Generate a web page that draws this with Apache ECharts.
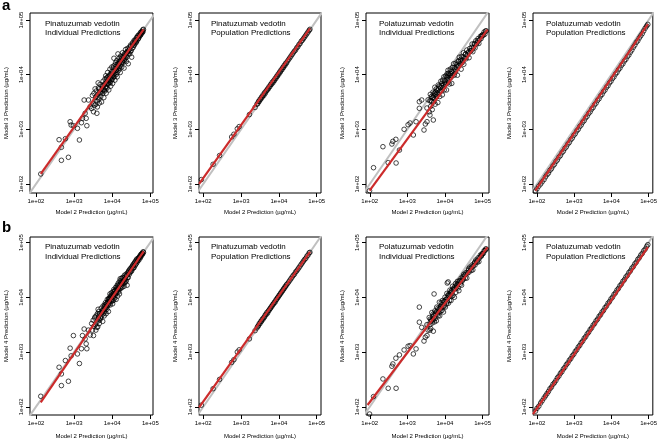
<!DOCTYPE html>
<html><head><meta charset="utf-8">
<script src="https://cdn.jsdelivr.net/npm/echarts@6/dist/echarts.min.js"></script>
<style>html,body{margin:0;padding:0;background:#fff}#c{width:660px;height:444px}</style>
</head><body><div id="c"></div>
<script>
// ---------- data (log10 of concentration, µg/mL) ----------
const tickValues = [100, 1000, 10000, 100000];
const xAxisTitle = 'Model 2 Prediction (µg/mL)';
const yAxisTitles = ['Model 3 Prediction (µg/mL)', 'Model 4 Prediction (µg/mL)'];
const panelTitles = [
  'Pinatuzumab vedotin\nIndividual Predictions',
  'Pinatuzumab vedotin\nPopulation Predictions',
  'Polatuzumab vedotin\nIndividual Predictions',
  'Polatuzumab vedotin\nPopulation Predictions'
];
const rowLetters = ['a', 'b'];

// [Model 2, Model 3, Model 4]  (log10 values)
const pinaIndiv = [
[2.124,2.183,2.192],[2.605,2.810,2.722],[2.666,2.671,2.600],[2.666,2.433,2.387],[2.850,2.488,2.466],
[2.771,2.828,2.844],[2.895,3.139,3.070],[2.921,3.079,2.930],[2.981,3.066,3.300],[3.087,3.018,2.965],
[3.139,2.805,2.790],[3.192,3.121,3.060],[3.218,3.201,3.300],[3.263,3.536,3.420],[3.334,3.066,3.060],
[3.289,3.293,3.240],[3.316,3.201,3.150],[3.376,3.536,3.400],[3.421,3.414,3.310],[3.508,3.322,3.300],
[3.597,3.293,3.450],
[3.46,3.38,3.52],[3.48,3.62,3.40],[3.50,3.47,3.58],[3.52,3.66,3.47],[3.54,3.44,3.62],[3.56,3.58,3.50],
[3.58,3.70,3.66],[3.60,3.52,3.55],[3.61,3.41,3.70],[3.62,3.64,3.46],[3.64,3.76,3.64],[3.65,3.55,3.74],
[3.67,3.68,3.58],[3.68,3.82,3.70],[3.70,3.60,3.62],[3.71,3.73,3.80],[3.72,3.50,3.66],[3.74,3.79,3.75],
[3.75,3.66,3.56],[3.76,3.88,3.84],[3.77,3.74,3.70],[3.78,3.58,3.78],[3.79,3.82,3.66],[3.80,3.70,3.86],
[3.81,3.92,3.74],[3.82,3.78,3.90],[3.83,3.98,3.80],[3.84,3.66,3.70],[3.85,3.86,3.88],[3.86,3.75,3.78],
[3.87,3.94,3.96],[3.88,4.04,3.84],[3.89,3.82,3.92],[3.90,3.90,3.74],[3.91,3.72,3.98],[3.92,3.98,3.88],
[3.93,3.86,3.96],[3.94,4.10,4.06],[3.95,3.94,3.86],[3.96,3.79,4.00],[3.97,4.02,3.92],[3.98,3.90,4.08],
[3.99,4.14,3.96],[4.00,3.98,4.02],[4.01,3.84,3.88],[4.02,4.06,4.10],[4.03,3.96,3.94],[4.045,4.30,4.05],
[4.04,4.16,4.14],[4.06,4.02,3.98],[4.07,3.90,4.12],[4.08,4.11,4.04],[4.09,4.22,4.18],[4.10,4.00,3.96],
[4.11,4.09,4.14],[4.12,4.26,4.08],[4.13,3.96,4.22],[4.14,4.14,4.02],[4.15,4.38,4.16],[4.16,4.20,4.26],
[4.17,4.08,4.10],[4.18,4.30,4.20],[4.19,4.12,4.06],[4.20,4.24,4.30],[4.21,4.04,4.34],[4.22,4.34,4.16],
[4.23,4.22,4.24],[4.25,4.14,4.28],[4.26,4.30,4.18],[4.27,4.40,4.36],[4.28,4.22,4.24],[4.30,4.32,4.32],
[4.31,4.12,4.20],[4.32,4.38,4.40],[4.33,4.28,4.26],[4.35,4.46,4.34],[4.36,4.34,4.42],[4.37,4.24,4.30],
[4.39,4.40,4.22],[4.40,4.48,4.44],[4.42,4.20,4.36],[4.43,4.44,4.48],[4.45,4.50,4.42],[4.46,4.38,4.50],
[4.48,4.54,4.46],[4.50,4.44,4.54],[4.51,4.32,4.48],[4.53,4.58,4.52],[4.55,4.50,4.60],[4.57,4.62,4.54],
[4.58,4.54,4.62],[4.60,4.64,4.58],[4.62,4.58,4.66],[4.64,4.68,4.62],[4.65,4.62,4.70],[4.67,4.71,4.66],
[4.69,4.66,4.72],[4.70,4.73,4.68],[4.72,4.70,4.75],[4.74,4.77,4.72],[4.75,4.73,4.78],[4.77,4.79,4.76],
[4.78,4.76,4.80],[4.80,4.82,4.79],[4.81,4.79,4.83],[4.82,4.83,4.82],
[3.55,3.74,3.64],[3.57,3.46,3.40],[3.63,3.85,3.78],[3.66,3.48,3.52],
[3.63,3.58,3.61],[3.66,3.74,3.70],[3.69,3.66,3.62],[3.73,3.70,3.72],[3.76,3.80,3.76],[3.79,3.72,3.82],
[3.81,3.84,3.80],[3.83,3.76,3.86],[3.85,3.94,3.84],[3.87,3.84,3.90],[3.89,3.96,3.86],[3.90,3.84,3.96],
[3.92,3.90,3.92],[3.94,4.00,3.98],[3.95,3.86,4.02],[3.97,3.96,3.98],[3.99,4.06,4.04],[4.00,3.92,3.94],
[4.02,4.00,4.06],[4.03,4.12,4.00],[4.05,3.96,4.10],[4.07,4.06,4.06],[4.08,4.18,4.12],[4.10,4.08,4.08],
[4.12,4.16,4.18],[4.13,4.04,4.12],[4.15,4.20,4.22],[4.17,4.14,4.16],[4.18,4.24,4.14],[4.20,4.16,4.24],
[4.22,4.26,4.28],[4.24,4.20,4.20],[4.25,4.32,4.34],[4.27,4.24,4.26],[4.29,4.34,4.30],[4.31,4.26,4.36],
[4.33,4.36,4.32],[4.34,4.30,4.28],[4.36,4.40,4.38],[4.38,4.32,4.40],[4.40,4.42,4.36],[4.42,4.38,4.46],
[4.44,4.46,4.44],[4.47,4.42,4.52],[4.49,4.52,4.48],[4.52,4.48,4.56],[4.54,4.56,4.58],[4.56,4.54,4.54],
[4.59,4.60,4.64],[4.61,4.62,4.60],[4.63,4.60,4.68],[4.66,4.68,4.66],[4.68,4.66,4.70],[4.71,4.72,4.72],
[4.73,4.72,4.74],[4.76,4.76,4.78],[4.79,4.78,4.80]
];

const pinaPop = [
[1.95,2.08,2.03],[2.26,2.36,2.33],[2.43,2.52,2.50],[2.75,2.86,2.81],[2.81,2.91,2.86],[2.90,3.01,3.00],
[2.95,3.05,3.04],[3.22,3.27,3.24],[3.37,3.40,3.39],
[3.42,3.46,3.44],[3.44,3.47,3.47],[3.46,3.51,3.48],[3.48,3.51,3.52],[3.50,3.55,3.52],[3.52,3.55,3.56],
[3.54,3.59,3.56],[3.56,3.59,3.60],[3.58,3.63,3.60],[3.60,3.62,3.63],[3.62,3.67,3.64],[3.64,3.66,3.68],
[3.66,3.70,3.68],[3.68,3.71,3.72],[3.70,3.74,3.71],[3.72,3.74,3.75],[3.74,3.78,3.76],[3.76,3.78,3.79],
[3.78,3.82,3.80],[3.80,3.82,3.83],[3.82,3.86,3.84],[3.84,3.85,3.87],[3.86,3.89,3.88],[3.88,3.89,3.91],
[3.90,3.93,3.91],[3.92,3.93,3.95],[3.94,3.97,3.96],[3.96,3.97,3.99],[3.98,4.01,4.00],[4.00,4.01,4.03],
[4.02,4.05,4.04],[4.04,4.05,4.07],[4.06,4.09,4.08],[4.08,4.09,4.11],[4.10,4.13,4.12],[4.12,4.13,4.15],
[4.14,4.17,4.16],[4.16,4.17,4.19],[4.18,4.21,4.20],[4.20,4.21,4.23],[4.23,4.25,4.25],[4.26,4.28,4.28],
[4.29,4.31,4.31],[4.32,4.34,4.34],[4.35,4.37,4.37],[4.38,4.40,4.40],[4.41,4.43,4.42],[4.44,4.45,4.46],
[4.47,4.49,4.48],[4.50,4.51,4.51],[4.53,4.55,4.54],[4.56,4.57,4.57],[4.59,4.61,4.60],[4.62,4.63,4.63],
[4.65,4.66,4.66],[4.68,4.69,4.69],[4.71,4.72,4.71],[4.74,4.75,4.75],[4.77,4.78,4.77],[4.80,4.81,4.81],
[4.82,4.83,4.82]
];

const polaIndiv = [
[1.995,1.877,1.868],[2.10,2.298,2.186],[2.35,2.682,2.508],[2.49,2.39,2.338],[2.588,2.731,2.74],
[2.614,2.78,2.782],[2.694,2.817,2.887],[2.70,2.384,2.338],[2.789,2.62,2.947],[2.913,3.0,3.038],
[3.019,3.084,3.106],[3.072,3.115,3.118],[3.159,2.896,2.965],[3.231,3.139,3.057],[3.318,3.384,3.82],
[3.318,3.505,3.545],[3.381,3.536,3.45],[3.442,2.987,3.20],[3.477,3.097,3.27],[3.522,3.139,3.30],
[3.60,3.26,3.40],[3.69,3.17,3.38],[3.71,3.62,4.06],[4.085,3.98,4.28],[4.06,4.02,4.26],
[3.52,3.39,3.50],[3.55,3.54,3.40],[3.58,3.32,3.63],[3.60,3.52,3.50],[3.61,3.64,3.60],[3.62,3.42,3.43],
[3.64,3.60,3.58],[3.65,3.51,3.72],[3.66,3.36,3.53],[3.68,3.68,3.69],[3.69,3.59,3.59],[3.70,3.50,3.67],
[3.72,3.66,3.55],[3.73,3.77,3.75],[3.74,3.46,3.61],[3.76,3.64,3.73],[3.77,3.74,3.57],[3.78,3.60,3.82],
[3.80,3.71,3.69],[3.81,3.49,3.80],[3.82,3.81,3.66],[3.84,3.68,3.78],[3.85,3.79,3.91],[3.86,3.60,3.66],
[3.88,3.77,3.83],[3.89,3.88,3.75],[3.90,3.70,3.90],[3.92,3.84,3.76],[3.93,3.63,3.94],[3.94,3.90,3.84],
[3.96,3.81,3.73],[3.97,3.96,3.93],[3.98,3.72,3.84],[4.00,3.89,4.00],[4.01,3.82,3.82],[4.02,3.98,3.95],
[4.04,3.72,3.88],[4.05,3.96,4.07],[4.06,3.90,3.92],[4.08,4.08,4.04],[4.09,3.86,3.89],[4.10,4.02,4.03],
[4.12,3.83,3.94],[4.13,3.99,4.13],[4.14,4.10,4.04],[4.16,3.95,3.94],[4.17,4.06,4.12],[4.18,3.84,4.02],
[4.20,4.13,4.20],[4.21,4.03,4.03],[4.23,4.20,4.16],[4.25,3.99,4.00],[4.26,4.13,4.15],[4.28,4.05,4.25],
[4.29,4.21,4.09],[4.32,4.14,4.22],[4.33,3.99,4.29],[4.35,4.25,4.17],[4.37,4.16,4.12],[4.38,4.32,4.30],
[4.41,4.25,4.24],[4.43,4.10,4.35],[4.44,4.33,4.22],[4.47,4.26,4.35],[4.49,4.40,4.33],[4.50,4.19,4.42],
[4.54,4.37,4.35],[4.56,4.29,4.45],[4.58,4.45,4.35],[4.62,4.40,4.49],[4.64,4.31,4.46],[4.66,4.48,4.55],
[4.70,4.44,4.49],[4.72,4.56,4.59],[4.74,4.42,4.50],[4.78,4.57,4.62],[4.80,4.49,4.59],[4.82,4.62,4.68],
[4.86,4.59,4.64],[4.88,4.66,4.72],[4.90,4.57,4.65],[4.94,4.70,4.77],[4.96,4.66,4.75],[4.98,4.72,4.79],
[5.02,4.72,4.80],[5.04,4.78,4.85],[5.06,4.74,4.85],[5.08,4.80,4.88],[5.10,4.80,4.88],
[3.63,3.52,3.56],[3.67,3.58,3.64],[3.71,3.56,3.62],[3.75,3.68,3.70],[3.79,3.66,3.74],[3.83,3.74,3.72],
[3.87,3.70,3.80],[3.91,3.80,3.86],[3.95,3.76,3.82],[3.99,3.86,3.92],[4.03,3.84,3.96],[4.07,3.94,3.98],
[4.11,3.92,4.06],[4.15,4.02,4.08],[4.19,3.98,4.10],[4.22,4.08,4.14],[4.27,4.10,4.20],[4.31,4.18,4.18],
[4.34,4.16,4.24],[4.36,4.24,4.26],[4.40,4.20,4.30],[4.42,4.28,4.28],[4.46,4.22,4.30],[4.48,4.32,4.38],
[4.52,4.30,4.40],[4.55,4.38,4.42],[4.60,4.36,4.44],[4.63,4.42,4.52],[4.68,4.44,4.52],[4.71,4.50,4.55],
[4.76,4.50,4.58],[4.79,4.56,4.64],[4.84,4.56,4.66],[4.87,4.62,4.68],[4.92,4.64,4.72],[4.97,4.70,4.76],
[5.00,4.73,4.80]
];

const polaPop = [
[1.96,1.87,1.92],[2.00,1.91,1.97],[2.05,1.96,2.01],[2.10,2.00,2.07],[2.14,2.04,2.11],[2.19,2.08,2.16],
[2.23,2.13,2.20],[2.27,2.17,2.24],[2.31,2.20,2.28],[2.35,2.25,2.33],[2.39,2.28,2.36],[2.43,2.33,2.41],
[2.47,2.36,2.44],[2.51,2.41,2.48],[2.55,2.44,2.53],[2.59,2.49,2.56],[2.63,2.52,2.61],[2.67,2.57,2.64],
[2.71,2.60,2.69],[2.75,2.65,2.72],[2.79,2.68,2.77],[2.83,2.73,2.80],[2.87,2.76,2.85],[2.91,2.81,2.88],
[2.95,2.84,2.93],[2.99,2.89,2.96],[3.03,2.92,3.01],[3.07,2.97,3.04],[3.11,3.00,3.09],[3.15,3.05,3.12],
[3.19,3.08,3.17],[3.23,3.13,3.20],[3.27,3.16,3.25],[3.31,3.21,3.28],[3.35,3.24,3.33],[3.39,3.29,3.36],
[3.43,3.32,3.41],[3.47,3.37,3.44],[3.51,3.40,3.49],[3.55,3.45,3.52],[3.59,3.48,3.57],[3.63,3.53,3.60],
[3.67,3.56,3.65],[3.71,3.61,3.68],[3.75,3.64,3.73],[3.79,3.69,3.76],[3.83,3.72,3.81],[3.87,3.77,3.84],
[3.91,3.80,3.89],[3.95,3.85,3.92],[3.99,3.88,3.97],[4.03,3.93,4.00],[4.07,3.96,4.05],[4.11,4.01,4.08],
[4.15,4.04,4.13],[4.19,4.09,4.16],[4.23,4.12,4.21],[4.27,4.17,4.24],[4.31,4.20,4.29],[4.35,4.25,4.32],
[4.39,4.28,4.37],[4.43,4.33,4.40],[4.47,4.36,4.45],[4.51,4.41,4.48],[4.55,4.45,4.53],[4.59,4.50,4.56],
[4.63,4.54,4.61],[4.67,4.59,4.64],[4.71,4.62,4.69],[4.75,4.67,4.72],[4.79,4.71,4.77],[4.83,4.75,4.80],
[4.87,4.80,4.85],[4.91,4.85,4.88],[4.95,4.89,4.93],[4.98,4.92,4.96]
];

// fitted (red) lines, log10 endpoints, row a (Model 3) and row b (Model 4)
const fitModel3 = [
  [[2.124,2.183],[4.824,4.829]],
  [[1.89,2.00],[4.824,4.848]],
  [[1.995,1.877],[5.13,4.824]],
  [[1.957,1.877],[4.981,4.926]]
];
const fitModel4 = [
  [[2.124,2.082],[4.824,4.837]],
  [[1.89,1.99],[4.824,4.830]],
  [[1.942,2.033],[5.13,4.91]],
  [[1.894,1.868],[4.981,4.916]]
];
const identitySpan = [10, 1000000];

// ---------- layout ----------
const colLeft = [30, 199, 366, 533];
const colWidth = [123, 122, 123, 122];
const rowTop = [13, 237];
const rowHeight = [180, 178];
const xRange = [[1.842,5.07],[1.887,5.113],[1.90,5.17],[1.894,5.114]];
const yRange = [[1.835,5.128],[1.85,5.10]];
const titleLeft = [45, 211, 379, 546];
const titleTop = [19, 242.5];
const FONT = '"Liberation Sans", Arial, Helvetica, sans-serif';

const pow = v => Math.pow(10, v);
const fmt = v => '1e+0' + Math.round(Math.log10(v));
const panelData = [pinaIndiv, pinaPop, polaIndiv, polaPop];
const fits = [fitModel3, fitModel4];

const grids = [], xAxes = [], yAxes = [], series = [], titles = [];
for (let r = 0; r < 2; r++) {
  for (let c = 0; c < 4; c++) {
    const i = r * 4 + c;
    grids.push({left: colLeft[c], top: rowTop[r], width: colWidth[c], height: rowHeight[r],
      show: true, borderColor: '#000', borderWidth: 1, backgroundColor: 'transparent'});
    xAxes.push({type: 'log', logBase: 10, gridIndex: i, min: pow(xRange[c][0]), max: pow(xRange[c][1]),
      name: xAxisTitle, nameLocation: 'middle', nameGap: r ? 18 : 16,
      nameTextStyle: {fontSize: 6, color: '#000', fontFamily: FONT},
      axisLine: {show: false},
      axisTick: {show: true, customValues: tickValues, length: 4, lineStyle: {color: '#000', width: 1}},
      axisLabel: {customValues: tickValues, formatter: fmt, fontSize: 6, color: '#000', margin: 5.5, fontFamily: FONT},
      splitLine: {show: false}, minorTick: {show: false}});
    yAxes.push({type: 'log', logBase: 10, gridIndex: i, min: pow(yRange[r][0]), max: pow(yRange[r][1]),
      name: yAxisTitles[r], nameLocation: 'middle', nameGap: 21,
      nameTextStyle: {fontSize: 6, color: '#000', fontFamily: FONT},
      axisLine: {show: false},
      axisTick: {show: true, customValues: tickValues, length: 4, lineStyle: {color: '#000', width: 1}},
      axisLabel: {customValues: tickValues, formatter: fmt, fontSize: 6, color: '#000', margin: 6, rotate: 90, fontFamily: FONT},
      splitLine: {show: false}, minorTick: {show: false}});
    series.push({type: 'line', xAxisIndex: i, yAxisIndex: i, data: identitySpan.map(v => [v, v]),
      symbol: 'none', lineStyle: {color: '#c0c0c0', width: 2}, z: 1, silent: true, clip: true});
    series.push({type: 'scatter', xAxisIndex: i, yAxisIndex: i,
      data: panelData[c].map(t => [pow(t[0]), pow(t[1 + r])]),
      symbol: 'circle', symbolSize: 4.6,
      itemStyle: {color: 'rgba(0,0,0,0)', borderColor: '#000', borderWidth: 0.9}, z: 2, silent: true});
    series.push({type: 'line', xAxisIndex: i, yAxisIndex: i,
      data: fits[r][c].map(p => [pow(p[0]), pow(p[1])]),
      symbol: 'none', lineStyle: {color: '#cc2b2b', width: 2.2}, z: 3, silent: true, clip: true});
    titles.push({text: panelTitles[c], left: titleLeft[c], top: titleTop[r], padding: 0,
      textStyle: {fontSize: 8, fontWeight: 'normal', color: '#000', lineHeight: 9.5, fontFamily: FONT}});
  }
  titles.push({text: rowLetters[r], left: 2, top: r ? 220 : -2, padding: 0,
    textStyle: {fontSize: 15, fontWeight: 'bold', color: '#000', fontFamily: FONT}});
}

const chart = echarts.init(document.getElementById('c'));
chart.setOption({animation: false, backgroundColor: '#fff', title: titles,
  grid: grids, xAxis: xAxes, yAxis: yAxes, series: series});
</script>
</body></html>
